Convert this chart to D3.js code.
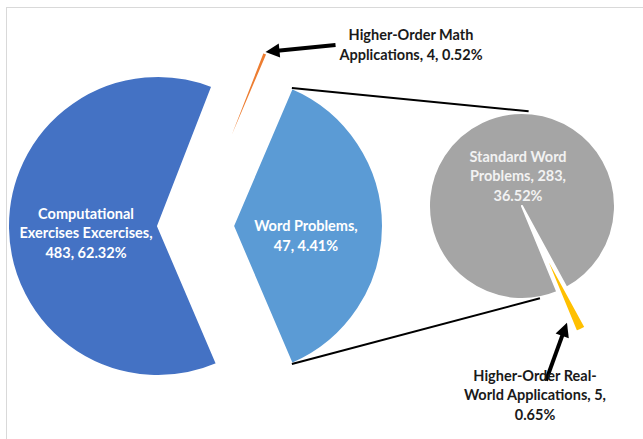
<!DOCTYPE html>
<html><head><meta charset="utf-8">
<script src="https://cdn.jsdelivr.net/npm/d3@7"></script>
<style>
html,body{margin:0;padding:0;background:#fff;}
svg{display:block;font-family:Lato,"Open Sans",sans-serif;}
</style></head><body>
<svg id="chart" width="643" height="439"></svg>
<script>
// ---------- data ----------
const primaryCategories = ["Computational Exercises", "Higher-Order Math Applications"];
const primaryValues = [483, 4];
const secondaryCategories = ["Standard Word Problems", "Higher-Order Real-World Applications"];
const secondaryValues = [283, 5];
const otherCategory = "Word Problems";
const otherLabel = ["Word Problems,", "47, 4.41%"];
const primaryLabels = [["Computational", "Exercises Excercises,", "483, 62.32%"],
                       ["Higher-Order Math", "Applications, 4, 0.52%"]];
const secondaryLabels = [["Standard Word", "Problems, 283,", "36.52%"],
                         ["Higher-Order Real-", "World Applications, 5,", "0.65%"]];
const primaryColors = ["#4472C4", "#ED7D31"];
const otherColor = "#5B9BD5";
const secondaryColors = ["#A5A5A5", "#FFC000"];

// ---------- layout ----------
const deg = Math.PI / 180;
const C1 = [158, 226], R1 = 150;
const C2 = [522, 206], R2 = 93;
const FONT = 14.5;

const svg = d3.select("#chart");
svg.append("rect").attr("x", 6.5).attr("y", 7.5).attr("width", 700).attr("height", 500)
  .attr("fill", "none").attr("stroke", "#d9d9d9").attr("stroke-width", 1);

// primary pie: "other" (sum of secondary) first, centred on the right
const otherValue = d3.sum(secondaryValues);
const pVals = [otherValue].concat(primaryValues);
const pCols = [otherColor].concat(primaryColors);
const pTotal = d3.sum(pVals);
const otherSpan = otherValue / pTotal * 2 * Math.PI;
const pStart = Math.PI / 2 - otherSpan / 2;
const pie1 = d3.pie().sort(null).startAngle(pStart).endAngle(pStart + 2 * Math.PI);
const arcs1 = pie1(pVals);
// explosion: [distance, direction angle in degrees]
const explode1 = [[75, 90], [0, 0], [61, 55.9]];
const off = (e) => [e[0] * Math.sin(e[1] * deg), -e[0] * Math.cos(e[1] * deg)];
const pt = (c, r, a) => [c[0] + r * Math.sin(a), c[1] - r * Math.cos(a)];

const arc1 = d3.arc().innerRadius(0).outerRadius(R1);
const g1 = svg.append("g");
arcs1.forEach((d, i) => {
  const o = off(explode1[i]);
  g1.append("path").attr("d", arc1(d)).attr("fill", pCols[i])
    .attr("stroke", "#fff").attr("stroke-width", 2).attr("stroke-linejoin", "round")
    .attr("transform", `translate(${C1[0] + o[0]},${C1[1] + o[1]})`);
});

// secondary pie
const sTotal = d3.sum(secondaryValues);
const ySpan = secondaryValues[1] / sTotal * 2 * Math.PI;
const yCenter = 154.5 * deg;
const sStart = yCenter + ySpan / 2;
const pie2 = d3.pie().sort(null).startAngle(sStart).endAngle(sStart + 2 * Math.PI);
const arcs2 = pie2(secondaryValues);
const explode2 = [0, 44];
const arc2 = d3.arc().innerRadius(0).outerRadius(R2);
const g2 = svg.append("g");
arcs2.forEach((d, i) => {
  const mid = (d.startAngle + d.endAngle) / 2;
  const o = [explode2[i] * Math.sin(mid), -explode2[i] * Math.cos(mid)];
  g2.append("path").attr("d", arc2(d)).attr("fill", secondaryColors[i])
    .attr("stroke", "#fff").attr("stroke-width", 2).attr("stroke-linejoin", "round")
    .attr("transform", `translate(${C2[0] + o[0]},${C2[1] + o[1]})`);
});

// connector lines
const oOff = off(explode1[0]);
const oC = [C1[0] + oOff[0], C1[1] + oOff[1]];
const conTop = [pt(oC, R1, arcs1[0].startAngle), pt(C2, R2 + 2, 4 * deg)];
const conBot = [pt(oC, R1, arcs1[0].endAngle), pt(C2, R2 + 1, 169 * deg)];
[conTop, conBot].forEach(l => {
  svg.append("line").attr("x1", l[0][0]).attr("y1", l[0][1]).attr("x2", l[1][0]).attr("y2", l[1][1])
    .attr("stroke", "#000").attr("stroke-width", 2);
});

// arrows
function arrow(tail, tip) {
  const dx = tip[0] - tail[0], dy = tip[1] - tail[1];
  const L = Math.hypot(dx, dy), ux = dx / L, uy = dy / L;
  const hl = 14, hw = 7;
  const base = [tip[0] - ux * hl, tip[1] - uy * hl];
  svg.append("line").attr("x1", tail[0]).attr("y1", tail[1]).attr("x2", base[0] + ux * 2).attr("y2", base[1] + uy * 2)
    .attr("stroke", "#000").attr("stroke-width", 4);
  svg.append("polygon").attr("fill", "#000").attr("points", [
    tip, [base[0] - uy * hw, base[1] + ux * hw], [base[0] + uy * hw, base[1] - ux * hw]
  ].map(p => p.join(",")).join(" "));
}
const homOff = off(explode1[2]);
const homMid = (arcs1[2].startAngle + arcs1[2].endAngle) / 2;
const homTip = pt([C1[0] + homOff[0], C1[1] + homOff[1]], R1 + 1, homMid);
arrow([homTip[0] + 70, homTip[1] - 7], homTip);
const yMid = (arcs2[1].startAngle + arcs2[1].endAngle) / 2;
const yV = pt(C2, explode2[1], yMid);
const yOuter = pt(yV, R2, yMid);
const yTip = [yOuter[0] - 14, yOuter[1] - 7];
arrow([yTip[0] - 21, yTip[1] + 58], yTip);

// labels
function label(lines, cx, cy, color) {
  const t = svg.append("text").attr("text-anchor", "middle").attr("font-weight", "bold")
    .attr("font-size", FONT).attr("fill", color);
  const lh = 19.5, y0 = cy - (lines.length - 1) * lh / 2;
  lines.forEach((s, i) => t.append("tspan").attr("x", cx).attr("y", y0 + i * lh).attr("dy", "0.35em").text(s));
}
label(primaryLabels[0], 86, 233, "#ffffff");
label(otherLabel, 306, 236, "#ffffff");
label(primaryLabels[1], 411, 45, "#1a1a1a");
label(secondaryLabels[0], 518, 176, "#f2f2f2");
label(secondaryLabels[1], 535, 395, "#1a1a1a");
</script>
</body></html>
